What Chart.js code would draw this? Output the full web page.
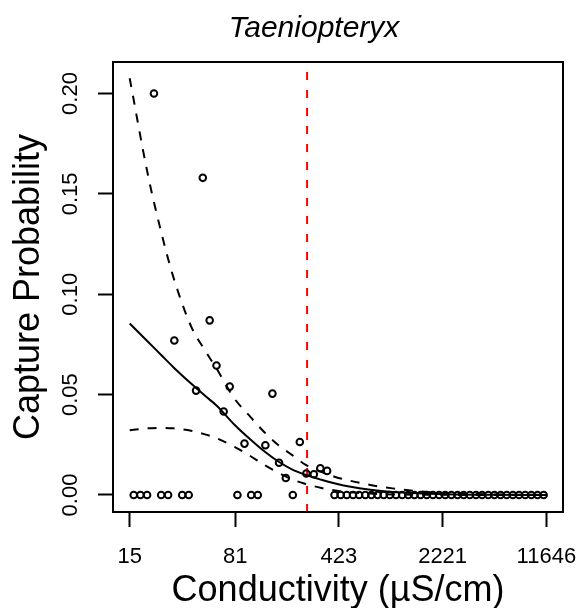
<!DOCTYPE html>
<html>
<head>
<meta charset="utf-8">
<script src="https://cdn.jsdelivr.net/npm/chart.js@4.4.1/dist/chart.umd.min.js"></script>
<style>
  html, body { margin: 0; padding: 0; background: #fff; }
  #wrap { width: 582px; height: 608px; }
</style>
</head>
<body>
<div id="wrap"><canvas id="captureChart" width="582" height="608"></canvas></div>
<script>
// observed capture probability per conductivity bin
const conductivity = [16.0, 17.8, 19.8, 22.1, 24.8, 27.7, 30.6, 34.7, 38.5, 43.3, 48.2, 53.8, 60.0, 67.3, 74.1,
    83.8, 93.8, 104.4, 116.0, 131, 146.6, 163, 181.6, 203, 227, 252, 284, 315, 351,
    395, 436, 481, 531, 585, 646, 712, 786, 867, 956, 1055, 1164, 1284, 1417, 1563, 1724, 1902, 2099,
    2315, 2555, 2818, 3109, 3430, 3784, 4174, 4606, 5081, 5606, 6185, 6823, 7527, 8303, 9162, 10106, 11150];
const captureProb = [0, 0, 0, 0.200, 0, 0, 0.077, 0, 0, 0.052, 0.158, 0.087, 0.0645, 0.0416, 0.054,
    0, 0.0256, 0, 0, 0.0248, 0.0505, 0.0161, 0.0085, 0, 0.0264, 0.0107, 0.0103, 0.0133, 0.0120,
    0, 0, 0, 0, 0, 0, 0, 0, 0, 0, 0, 0, 0, 0, 0, 0, 0, 0,
    0, 0, 0, 0, 0, 0, 0, 0, 0, 0, 0, 0, 0, 0, 0, 0, 0];

// fitted curve and confidence band
const curveCond = [15, 20, 25, 30, 40, 50, 60, 80, 100, 130, 160, 200, 250, 320, 400, 500, 700, 1000, 2000, 5000, 11646];
const fitProb   = [0.0854, 0.0765, 0.0695, 0.0638, 0.0555, 0.0494, 0.0446, 0.0350, 0.0285, 0.0215, 0.0168, 0.0128, 0.0100, 0.0076, 0.0057, 0.0042, 0.0026, 0.0015, 0.0005, 0.0001, 0];
const upperProb = [0.2076, 0.160, 0.130, 0.109, 0.084, 0.072, 0.063, 0.048, 0.040, 0.031, 0.025, 0.020, 0.015, 0.0115, 0.009, 0.0072, 0.005, 0.0033, 0.0012, 0.0003, 0.0001];
const lowerProb = [0.0323, 0.0332, 0.0334, 0.0332, 0.0320, 0.0302, 0.0283, 0.0240, 0.0200, 0.0148, 0.0112, 0.0078, 0.0055, 0.0035, 0.0022, 0.0014, 0.0007, 0.0003, 0.0001, 0, 0];

const threshold = 255;

const xTicks = [15, 81, 423, 2221, 11646];
const xTickLabels = ['15', '81', '423', '2221', '11646'];
const yTicks = [0, 0.05, 0.10, 0.15, 0.20];
const yTickLabels = ['0.00', '0.05', '0.10', '0.15', '0.20'];

const xMin = 11.49, xMax = 15190;
const yMin = -0.00847, yMax = 0.2157;

const pairs = (xs, ys) => xs.map((x, i) => ({ x: x, y: ys[i] }));

// box, tick labels and titles in R style
const rStyle = {
    id: 'rStyle',
    afterDraw(chart) {
        const { ctx, chartArea: a, scales } = chart;
        ctx.save();
        ctx.strokeStyle = '#000';
        ctx.lineWidth = 2;
        ctx.strokeRect(a.left, a.top, a.right - a.left, a.bottom - a.top);

        ctx.fillStyle = '#000';
        ctx.font = '22px "Liberation Sans", Arial, sans-serif';
        ctx.textAlign = 'center';
        ctx.textBaseline = 'alphabetic';
        xTicks.forEach((v, i) => {
            ctx.fillText(xTickLabels[i], scales.x.getPixelForValue(v), 563);
        });
        yTicks.forEach((v, i) => {
            ctx.save();
            ctx.translate(71, scales.y.getPixelForValue(v));
            ctx.rotate(-Math.PI / 2);
            ctx.textBaseline = 'middle';
            ctx.fillText(yTickLabels[i], 0, 0);
            ctx.restore();
        });

        ctx.font = '36px "Liberation Sans", Arial, sans-serif';
        ctx.fillText('Conductivity (µS/cm)', (a.left + a.right) / 2, 601);
        ctx.save();
        ctx.translate(29, (a.top + a.bottom) / 2);
        ctx.rotate(-Math.PI / 2);
        ctx.textBaseline = 'middle';
        ctx.fillText('Capture Probability', 0, 0);
        ctx.restore();

        ctx.font = 'italic 30px "Liberation Sans", Arial, sans-serif';
        ctx.fillText('Taeniopteryx', 314, 37);
        ctx.restore();
    }
};

const ctx = document.getElementById('captureChart').getContext('2d');
new Chart(ctx, {
    type: 'scatter',
    data: {
        datasets: [
            {
                data: pairs(conductivity, captureProb),
                pointStyle: 'circle',
                pointRadius: 3.3,
                borderColor: '#000',
                backgroundColor: 'rgba(0,0,0,0)',
                borderWidth: 2
            },
            {
                data: pairs(curveCond, fitProb),
                showLine: true,
                borderColor: '#000',
                borderWidth: 2,
                pointRadius: 0,
                cubicInterpolationMode: 'monotone'
            },
            {
                data: pairs(curveCond, upperProb),
                showLine: true,
                borderColor: '#000',
                borderWidth: 2,
                borderDash: [9, 9],
                pointRadius: 0,
                cubicInterpolationMode: 'monotone'
            },
            {
                data: pairs(curveCond, lowerProb),
                showLine: true,
                borderColor: '#000',
                borderWidth: 2,
                borderDash: [9, 9],
                pointRadius: 0,
                cubicInterpolationMode: 'monotone'
            },
            {
                data: [{ x: threshold, y: yMin }, { x: threshold, y: yMax }],
                showLine: true,
                borderColor: '#ff0000',
                borderWidth: 2,
                borderDash: [8, 10],
                pointRadius: 0
            }
        ]
    },
    options: {
        responsive: false,
        animation: false,
        devicePixelRatio: 1,
        layout: { padding: { left: 0, top: 62, right: 19, bottom: 0 } },
        plugins: {
            legend: { display: false },
            tooltip: { enabled: false }
        },
        scales: {
            x: {
                type: 'logarithmic',
                min: xMin,
                max: xMax,
                bounds: 'data',
                afterBuildTicks: axis => { axis.ticks = xTicks.map(v => ({ value: v })); },
                afterFit: axis => { axis.height = 96; },
                ticks: { display: false },
                grid: { drawOnChartArea: false, drawTicks: true, tickLength: 15, tickWidth: 2, tickColor: '#000' },
                border: { display: false }
            },
            y: {
                type: 'linear',
                min: yMin,
                max: yMax,
                bounds: 'data',
                afterBuildTicks: axis => { axis.ticks = yTicks.map(v => ({ value: v })); },
                afterFit: axis => { axis.width = 113; },
                ticks: { display: false },
                grid: { drawOnChartArea: false, drawTicks: true, tickLength: 15, tickWidth: 2, tickColor: '#000' },
                border: { display: false }
            }
        }
    },
    plugins: [rStyle]
});
</script>
</body>
</html>
